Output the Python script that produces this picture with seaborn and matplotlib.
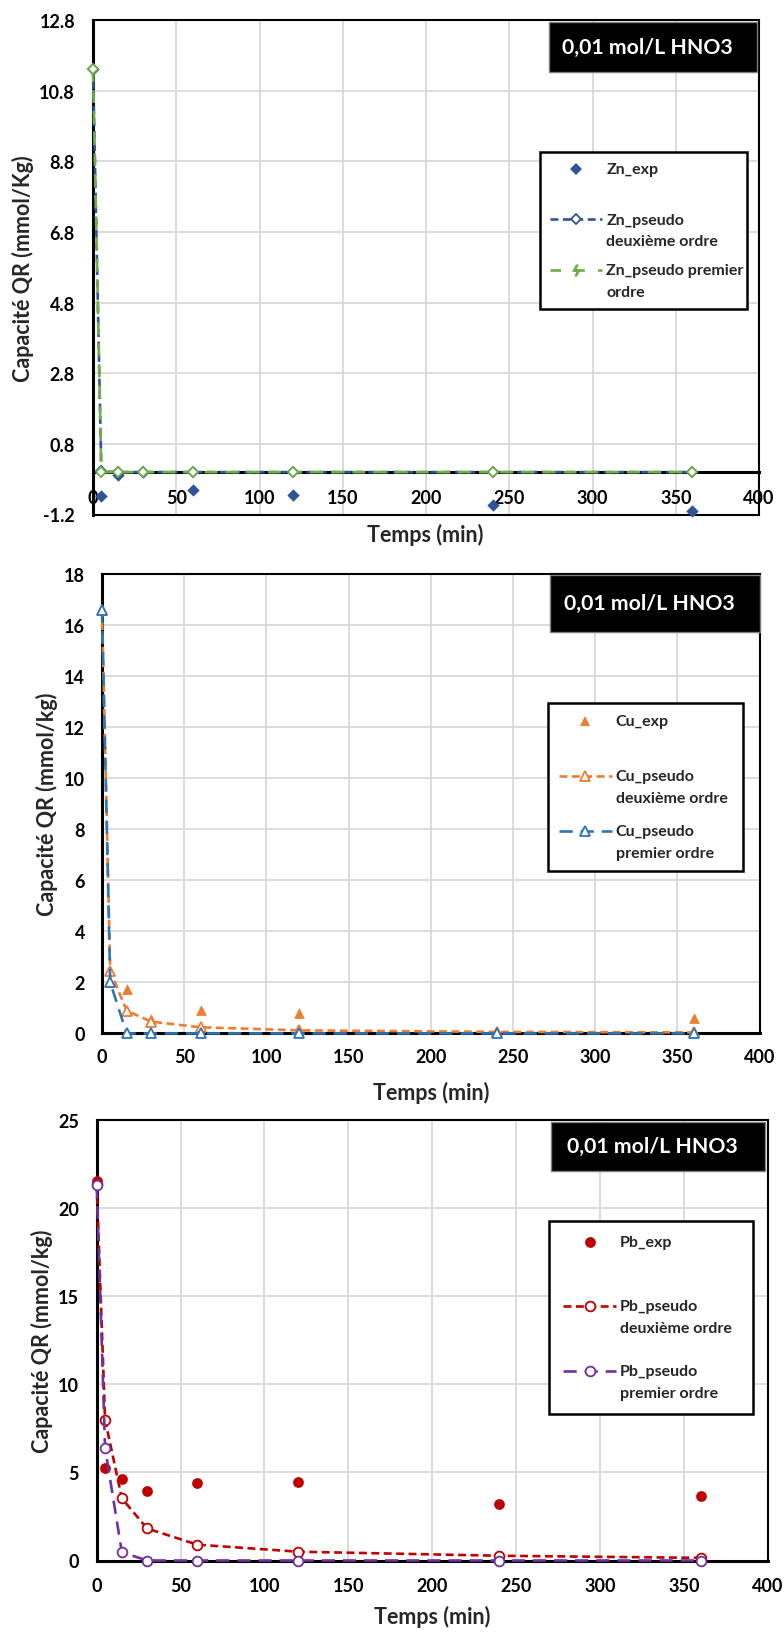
import matplotlib
matplotlib.use('Agg')
import matplotlib.pyplot as plt
from matplotlib.lines import Line2D
from matplotlib.patches import Rectangle
from matplotlib.legend_handler import HandlerLine2D
import numpy as np
import seaborn as sns

# temps de contact (min)
temps = [0, 5, 15, 30, 60, 120, 240, 360]

# Zn
zn_exp = [11.42, -0.68, -0.08, 0.0, -0.52, -0.64, -0.94, -1.09]
zn_pso2 = [11.42, 0.02, 0.0, 0.0, 0.0, 0.0, 0.0, 0.0]
zn_pso1 = [11.42, 0.0, 0.0, 0.0, 0.0, 0.0, 0.0, 0.0]

# Cu
cu_exp = [16.6, 2.0, 1.74, 0.56, 0.92, 0.79, 0.07, 0.6]
cu_pso2 = [16.6, 2.46, 0.89, 0.46, 0.24, 0.12, 0.06, 0.04]
cu_pso1 = [16.6, 2.0, 0.0, 0.0, 0.0, 0.0, 0.0, 0.0]

# Pb
pb_exp = [21.58, 5.24, 4.63, 3.97, 4.38, 4.48, 3.21, 3.65]
pb_pso2 = [21.4, 8.0, 3.53, 1.82, 0.9, 0.5, 0.27, 0.15]
pb_pso1 = [21.33, 6.39, 0.47, 0.0, 0.0, 0.0, 0.0, 0.0]

x_ticks = np.arange(0, 401, 50)
zn_yticks = np.round(np.arange(-1.2, 12.81, 2), 1)
cu_yticks = np.arange(0, 19, 2)
pb_yticks = np.arange(0, 26, 5)

titre = '0,01 mol/L HNO3'

sns.set_style('white')
plt.rcParams['font.family'] = ['Lato', 'DejaVu Sans']
plt.rcParams['font.weight'] = 'bold'
plt.rcParams['axes.labelweight'] = 'bold'

W, H = 784, 1633
fig = plt.figure(figsize=(W / 100, H / 100), dpi=100)


class RaisedLine(HandlerLine2D):
    # handle aligned on the first line of a two-line label (like Excel)
    def __init__(self, dy, **kw):
        super().__init__(**kw)
        self.dy = dy

    def create_artists(self, legend, orig_handle, xdescent, ydescent, width,
                       height, fontsize, trans):
        return super().create_artists(legend, orig_handle, xdescent,
                                      ydescent - 2 * self.dy, width, height,
                                      fontsize, trans)


def add_ax(left, top, right, bottom):
    return fig.add_axes([left / W, 1 - bottom / H, (right - left) / W, (bottom - top) / H])


def draw_panel(ax, exp, pso2, pso1, metal, colors, markers, yticks, ylabel,
               title_box, leg_box, leg_spacing, leg_pad, xpad, ypad, xlab_xy, ylab_xy,
               exp_size, open_ms):
    c_exp, c2, c1 = colors
    m_exp, m_open = markers

    sns.scatterplot(x=temps, y=exp, ax=ax, marker=m_exp, s=exp_size, color=c_exp,
                    linewidth=0, zorder=3, clip_on=False)
    l2 = sns.lineplot(x=temps, y=pso2, ax=ax, color=c2, linestyle=(0, (3, 1.7)), lw=1.9,
                      marker=m_open, markersize=open_ms, markerfacecolor='white',
                      markeredgecolor=c2, markeredgewidth=1.3, sort=False,
                      estimator=None, zorder=3, clip_on=False).lines[-1]
    l1 = sns.lineplot(x=temps, y=pso1, ax=ax, color=c1, linestyle=(0, (5, 3)), lw=1.9,
                      marker=m_open, markersize=open_ms, markerfacecolor='white',
                      markeredgecolor=c1, markeredgewidth=1.3, sort=False,
                      estimator=None, zorder=4, clip_on=False).lines[-1]

    ax.set_xlim(0, 400)
    ax.set_ylim(yticks[0], yticks[-1])
    ax.set_xticks(x_ticks)
    ax.set_yticks(yticks)
    if metal == 'Zn':
        ax.set_yticklabels([f'{v:.1f}' for v in yticks])
    ax.grid(True, color='#D9D9D9', lw=1.3)
    ax.set_axisbelow(True)

    for side in ['top', 'right']:
        ax.spines[side].set_linewidth(1.5)
        ax.spines[side].set_color('black')
    for side in ['left', 'bottom']:
        ax.spines[side].set_linewidth(2.2)
        ax.spines[side].set_color('black')

    ax.tick_params(axis='both', labelsize=13, width=1.8, color='black', labelcolor='black')
    ax.tick_params(axis='y', direction='in', length=5, pad=ypad)
    if metal == 'Zn':
        ax.spines['bottom'].set_position(('data', 0))
        ax.plot([0, 1], [0, 0], transform=ax.transAxes, color='black', lw=1.5, clip_on=False)
        ax.tick_params(axis='x', direction='inout', length=7, pad=xpad)
    else:
        ax.tick_params(axis='x', direction='in', length=5, pad=xpad)

    ax.set_xlabel('Temps (min)', fontsize=15.5, fontweight='bold')
    ax.xaxis.label.set_va('center')
    ax.xaxis.set_label_coords(*xlab_xy)
    ax.set_ylabel(ylabel, fontsize=15.5, fontweight='bold')
    ax.yaxis.label.set_va('center')
    ax.yaxis.set_label_coords(*ylab_xy)

    # encadré noir du titre
    x0, x1, yb, yt = title_box
    ax.add_patch(Rectangle((x0, yb), x1 - x0, yt - yb, transform=ax.transAxes,
                           facecolor='black', edgecolor='#7f7f7f', lw=1,
                           zorder=6, clip_on=False))
    ax.text((x0 + x1) / 2 - 0.008, (yb + yt) / 2, titre, transform=ax.transAxes,
            color='white', fontsize=15.3, fontweight='bold', ha='center', va='center',
            zorder=7)

    h_exp = Line2D([], [], linestyle='none', marker=m_exp, color=c_exp,
                   markersize=np.sqrt(exp_size), markeredgewidth=0)
    h1 = l1
    if metal == 'Zn':
        h1 = Line2D([], [], color=c1, linestyle=(0, (4, 5)), lw=1.9,
                    marker='$ϟ$', markersize=8, markeredgewidth=0.6)
    labels = [f'{metal}_exp\n',
              f'{metal}_pseudo\ndeuxième ordre',
              f'{metal}_pseudo premier\nordre' if metal == 'Zn'
              else f'{metal}_pseudo\npremier ordre']
    lx0, lx1, lyt = leg_box
    leg = ax.legend([h_exp, l2, h1], labels, loc='upper left',
                    bbox_to_anchor=(lx0, lyt, lx1 - lx0, 0), mode='expand',
                    borderaxespad=0, frameon=True, fancybox=False, framealpha=1,
                    edgecolor='black', prop={'size': 11.5, 'weight': 'bold'},
                    handlelength=3.3, handletextpad=0.25, labelspacing=leg_spacing,
                    borderpad=leg_pad, numpoints=1,
                    handler_map={Line2D: RaisedLine(7.9)})
    leg.get_frame().set_linewidth(1.8)
    leg.set_zorder(8)
    for t in leg.get_texts():
        t.set_linespacing(1.7)


ax1 = add_ax(93, 21, 759, 515.5)
draw_panel(ax1, zn_exp, zn_pso2, zn_pso1, 'Zn',
           ('#2F5597', '#2F5597', '#70AD47'), ('D', 'D'), zn_yticks,
           'Capacité QR (mmol/Kg)',
           (0.685, 0.997, 0.895, 0.996), (0.671, 0.982, 0.733), 0.94, 0.62,
           8.4, 13, (0.4985, -0.0394), (-0.105, 0.5), 40, 5.5)

ax2 = add_ax(102, 575, 759.5, 1034.4)
draw_panel(ax2, cu_exp, cu_pso2, cu_pso1, 'Cu',
           ('#ED7D31', '#ED7D31', '#2E75B6'), ('^', '^'), cu_yticks,
           'Capacité QR (mmol/kg)',
           (0.681, 1.0, 0.874, 0.998), (0.678, 0.975, 0.719), 1.2, 0.7,
           10.8, 12.2, (0.5, -0.1276), (-0.0837, 0.5), 60, 7)

ax3 = add_ax(96.7, 1121.3, 767.7, 1561.5)
draw_panel(ax3, pb_exp, pb_pso2, pb_pso1, 'Pb',
           ('#C00000', '#C00000', '#7030A0'), ('o', 'o'), pb_yticks,
           'Capacité QR (mmol/kg)',
           (0.677, 0.996, 0.885, 0.997), (0.674, 0.978, 0.772), 1.8, 0.9,
           12.2, 12.7, (0.4997, -0.1265), (-0.0815, 0.5), 60, 7)

fig.savefig('out.png', dpi=100)
plt.close(fig)
